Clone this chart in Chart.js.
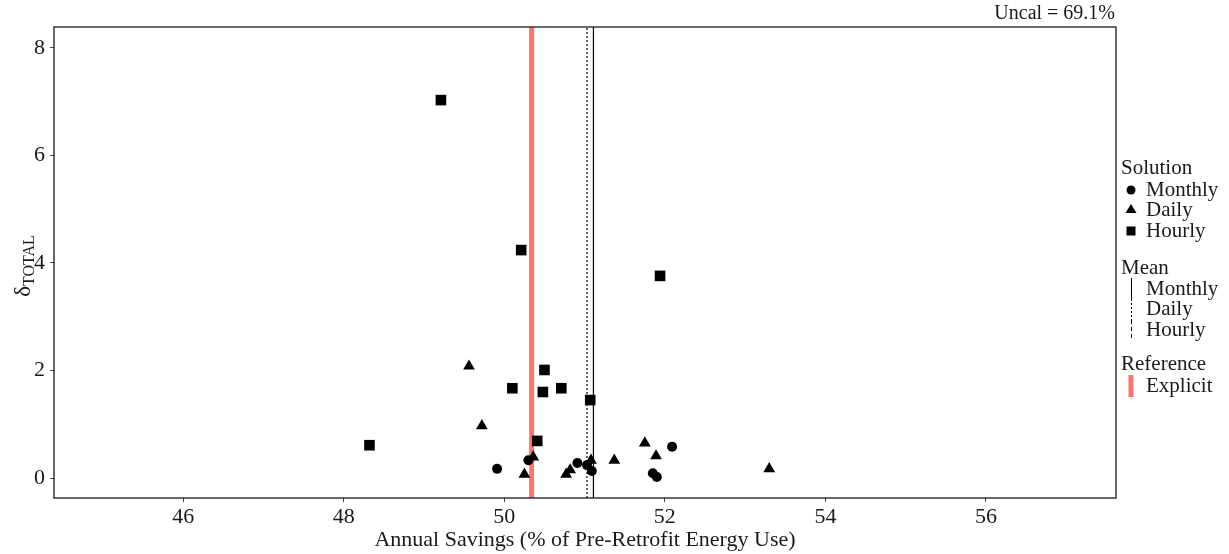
<!DOCTYPE html>
<html>
<head>
<meta charset="utf-8">
<script src="https://cdn.jsdelivr.net/npm/chart.js@4.4.0/dist/chart.umd.min.js"></script>
<style>
  html, body { margin: 0; padding: 0; background: #fff; }
  #wrap { width: 1229px; height: 554px; }
</style>
</head>
<body>
<div id="wrap"><canvas id="chart" width="1229" height="554"></canvas></div>
<script>
// savings (%) / delta total
const monthlyX = [49.91, 50.30, 50.91, 51.03, 51.09, 51.85, 51.90, 52.09];
const monthlyY = [0.17, 0.33, 0.28, 0.24, 0.13, 0.09, 0.02, 0.58];

const dailyX = [49.56, 49.72, 50.25, 50.36, 50.77, 50.82, 51.08, 51.37, 51.75, 51.89, 53.30];
const dailyY = [2.08, 0.97, 0.07, 0.39, 0.07, 0.15, 0.33, 0.33, 0.65, 0.41, 0.17];

const hourlyX = [49.21, 50.21, 51.94, 50.10, 50.50, 50.48, 50.71, 51.07, 48.32, 50.41];
const hourlyY = [7.03, 4.24, 3.76, 1.67, 2.01, 1.60, 1.67, 1.45, 0.61, 0.69];

const meanMonthly = 51.11;
const meanDaily = 51.03;
const meanHourly = 50.335;
const explicitRef = 50.34;

const xTicks = [46, 48, 50, 52, 54, 56];
const yTicks = [0, 2, 4, 6, 8];
const X_MIN = 44.39, X_MAX = 57.62;
const Y_MIN = -0.372, Y_MAX = 8.39;

const SERIF = '"Liberation Serif", "DejaVu Serif", serif';
const INK = "#1a1a1a";
const RED = "#F8766D";

const toPts = (xs, ys) => xs.map((x, i) => ({ x, y: ys[i] }));
const vline = (x) => [{ x, y: Y_MIN }, { x, y: Y_MAX }];

const pointDs = (label, xs, ys, style, r) => ({
  type: "scatter",
  label,
  data: toPts(xs, ys),
  pointStyle: style,
  pointRadius: r,
  pointHoverRadius: r,
  backgroundColor: "#000",
  borderColor: "#000",
  borderWidth: 0,
  order: 1,
});

const lineDs = (label, x, color, width, dash, order) => ({
  type: "line",
  label,
  data: vline(x),
  borderColor: color,
  borderWidth: width,
  borderDash: dash,
  pointRadius: 0,
  fill: false,
  order,
});

// frame, legend, y title and the annotation text
const decor = {
  id: "decor",
  afterDatasetsDraw(chart) {
    const { ctx, chartArea: a } = chart;
    ctx.save();
    ctx.strokeStyle = INK;
    ctx.lineWidth = 1.3;
    ctx.strokeRect(a.left, a.top, a.right - a.left, a.bottom - a.top);
    ctx.restore();
  },
  afterDraw(chart) {
    const { ctx, chartArea: a } = chart;
    ctx.save();
    ctx.fillStyle = INK;
    ctx.textBaseline = "middle";

    // top right note
    ctx.font = "20px " + SERIF;
    ctx.textAlign = "right";
    ctx.fillText("Uncal = 69.1%", a.right - 1, 14);

    // y title
    ctx.save();
    ctx.translate(24, 266);
    ctx.rotate(-Math.PI / 2);
    ctx.textAlign = "left";
    ctx.textBaseline = "alphabetic";
    ctx.font = "23px " + SERIF;
    const wd = ctx.measureText("δ").width;
    ctx.font = "16px " + SERIF;
    const ws = ctx.measureText("TOTAL").width;
    const start = -(wd + ws) / 2;
    ctx.font = "23px " + SERIF;
    ctx.fillText("δ", start, 6);
    ctx.font = "16px " + SERIF;
    ctx.fillText("TOTAL", start + wd, 10);
    ctx.restore();

    // legend
    const lx = 1121, sx = 1131, tx = 1146;
    ctx.textAlign = "left";
    ctx.font = "21px " + SERIF;
    ctx.fillText("Solution", lx, 168);
    ctx.fillText("Monthly", tx, 190);
    ctx.fillText("Daily", tx, 210);
    ctx.fillText("Hourly", tx, 231);
    ctx.fillText("Mean", lx, 268);
    ctx.fillText("Monthly", tx, 289);
    ctx.fillText("Daily", tx, 309);
    ctx.fillText("Hourly", tx, 330);
    ctx.fillText("Reference", lx, 364);
    ctx.fillText("Explicit", tx, 386);

    ctx.fillStyle = "#000";
    ctx.beginPath();
    ctx.arc(sx, 190, 4.5, 0, Math.PI * 2);
    ctx.fill();
    ctx.beginPath();
    ctx.moveTo(sx, 204);
    ctx.lineTo(sx + 5.5, 213);
    ctx.lineTo(sx - 5.5, 213);
    ctx.closePath();
    ctx.fill();
    ctx.fillRect(sx - 4.5, 226.5, 9, 9);

    ctx.strokeStyle = "#000";
    ctx.lineWidth = 1;
    [[278, 299, []], [299, 320, [2, 2]], [320, 341, [4, 3]]].forEach(([y0, y1, d]) => {
      ctx.setLineDash(d);
      ctx.beginPath();
      ctx.moveTo(sx + 0.5, y0);
      ctx.lineTo(sx + 0.5, y1);
      ctx.stroke();
    });
    ctx.setLineDash([]);
    ctx.fillStyle = RED;
    ctx.fillRect(sx - 2.5, 375, 5, 22);
    ctx.restore();
  },
};

new Chart(document.getElementById("chart"), {
  data: {
    datasets: [
      pointDs("Monthly", monthlyX, monthlyY, "circle", 5),
      pointDs("Daily", dailyX, dailyY, "triangle", 6.8),
      pointDs("Hourly", hourlyX, hourlyY, "rect", 7.5),
      lineDs("Mean Monthly", meanMonthly, "#000", 1.2, [], 2),
      lineDs("Mean Daily", meanDaily, "#000", 1.2, [2, 2], 2),
      lineDs("Mean Hourly", meanHourly, "#000", 1.2, [4, 3], 4),
      lineDs("Explicit", explicitRef, RED, 5, [], 3),
    ],
  },
  options: {
    responsive: false,
    animation: false,
    devicePixelRatio: 1,
    layout: { padding: { top: 27, right: 113, left: 0, bottom: 0 } },
    plugins: {
      legend: { display: false },
      tooltip: { enabled: false },
    },
    scales: {
      x: {
        type: "linear",
        position: "bottom",
        min: X_MIN,
        max: X_MAX,
        afterBuildTicks: (s) => { s.ticks = xTicks.map((v) => ({ value: v })); },
        afterFit: (s) => { s.height = 56; },
        border: { display: false },
        grid: { drawOnChartArea: false, drawTicks: true, tickLength: 4, color: "#444", tickWidth: 1 },
        ticks: { color: INK, padding: 2, font: { family: SERIF, size: 22 }, maxRotation: 0 },
        title: {
          display: true,
          text: "Annual Savings (% of Pre-Retrofit Energy Use)",
          color: INK,
          font: { family: SERIF, size: 22 },
          padding: { top: 0, bottom: 1 },
        },
      },
      y: {
        type: "linear",
        min: Y_MIN,
        max: Y_MAX,
        afterBuildTicks: (s) => { s.ticks = yTicks.map((v) => ({ value: v })); },
        afterFit: (s) => { s.width = 54; },
        border: { display: false },
        grid: { drawOnChartArea: false, drawTicks: true, tickLength: 4, color: "#444", tickWidth: 1 },
        ticks: { color: INK, padding: 5, font: { family: SERIF, size: 22 } },
      },
    },
  },
  plugins: [decor],
});
</script>
</body>
</html>
